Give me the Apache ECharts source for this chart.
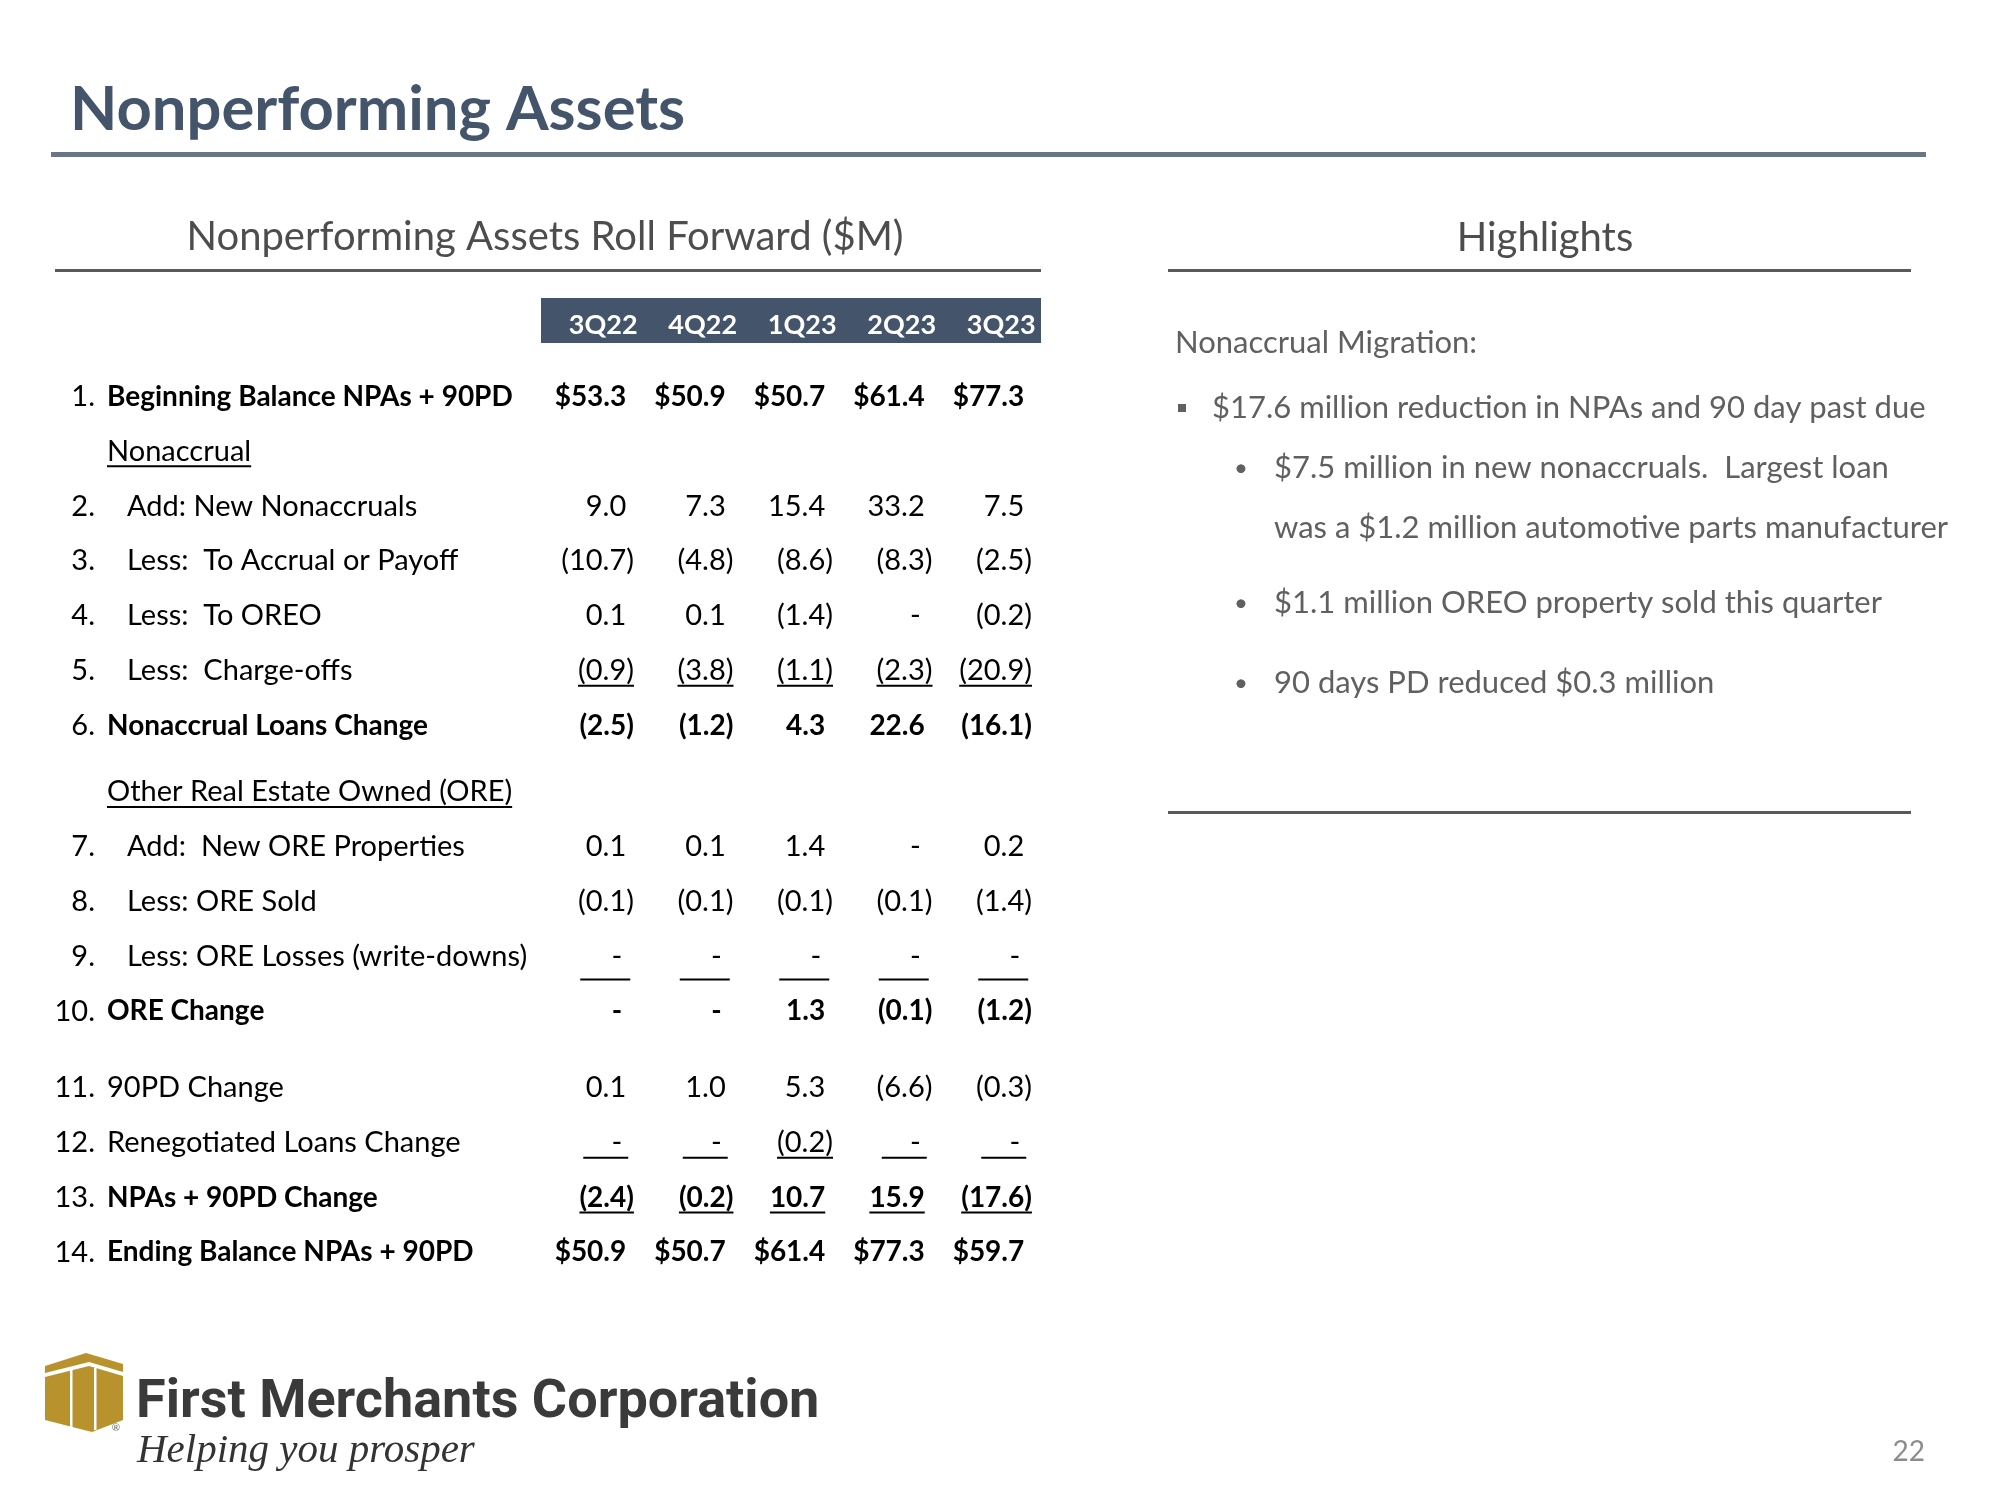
<!DOCTYPE html>
<html><head><meta charset="utf-8">
<script src="https://cdn.jsdelivr.net/npm/echarts@6/dist/echarts.min.js"></script>
<style>html,body{margin:0;padding:0;background:#fff}#c{width:2000px;height:1500px}</style>
</head><body><div id="c"></div>
<script>
// ---------------- DATA ----------------
const quarters = ['3Q22', '4Q22', '1Q23', '2Q23', '3Q23'];
const beginningBalance   = [53.3, 50.9, 50.7, 61.4, 77.3];
const newNonaccruals     = [9.0, 7.3, 15.4, 33.2, 7.5];
const toAccrualOrPayoff  = [-10.7, -4.8, -8.6, -8.3, -2.5];
const toOreo             = [0.1, 0.1, -1.4, 0, -0.2];
const chargeOffs         = [-0.9, -3.8, -1.1, -2.3, -20.9];
const nonaccrualChange   = [-2.5, -1.2, 4.3, 22.6, -16.1];
const newOreProperties   = [0.1, 0.1, 1.4, 0, 0.2];
const oreSold            = [-0.1, -0.1, -0.1, -0.1, -1.4];
const oreLosses          = [0, 0, 0, 0, 0];
const oreChange          = [0, 0, 1.3, -0.1, -1.2];
const pd90Change         = [0.1, 1.0, 5.3, -6.6, -0.3];
const renegotiatedChange = [0, 0, -0.2, 0, 0];
const npaChange          = [-2.4, -0.2, 10.7, 15.9, -17.6];
const endingBalance      = [50.9, 50.7, 61.4, 77.3, 59.7];

const rowNumbers = ['1.', '', '2.', '3.', '4.', '5.', '6.', '', '7.', '8.', '9.', '10.', '11.', '12.', '13.', '14.'];
const rowLabels = [
  'Beginning Balance NPAs + 90PD', 'Nonaccrual', 'Add: New Nonaccruals', 'Less:  To Accrual or Payoff',
  'Less:  To OREO', 'Less:  Charge-offs', 'Nonaccrual Loans Change', 'Other Real Estate Owned (ORE)',
  'Add:  New ORE Properties', 'Less: ORE Sold', 'Less: ORE Losses (write-downs)', 'ORE Change',
  '90PD Change', 'Renegotiated Loans Change', 'NPAs + 90PD Change', 'Ending Balance NPAs + 90PD'
];
const rowValues = [
  beginningBalance, null, newNonaccruals, toAccrualOrPayoff, toOreo, chargeOffs, nonaccrualChange, null,
  newOreProperties, oreSold, oreLosses, oreChange, pd90Change, renegotiatedChange, npaChange, endingBalance
];
const dollarRows = [0, 15];

const slideTitle = 'Nonperforming Assets';
const tableTitle = 'Nonperforming Assets Roll Forward ($M)';
const highlightsTitle = 'Highlights';
const highlightsLead = 'Nonaccrual Migration:';
const highlightMain = '$17.6 million reduction in NPAs and 90 day past due';
const highlightSubs = [
  ['$7.5 million in new nonaccruals.  Largest loan', 'was a $1.2 million automotive parts manufacturer'],
  ['$1.1 million OREO property sold this quarter'],
  ['90 days PD reduced $0.3 million']
];
const companyName = 'First Merchants Corporation';
const tagline = 'Helping you prosper';
const pageNumber = '22';

// ---------------- STYLE / LAYOUT ----------------
const boldRows = [0, 6, 11, 14, 15];
const indentRows = [2, 3, 4, 5, 8, 9, 10];
const sectionRows = [1, 7];
const rowDecoration = {5: 'u', 10: 'b', 13: 'pu', 14: 'u'};
const FF = 'Lato, "Open Sans", sans-serif';
const FS = 29, FSB = 28;
const HFS = 31;
const TXT = '#000000';
const NUM_RIGHT = 23, DASH_PAD = 4;
function rowSlot(i) { return i + (i >= 7 ? 0.21 : 0) + (i >= 12 ? 0.395 : 0); }

const mctx = document.createElement('canvas').getContext('2d');
function tw(t, weight, size, fam) { mctx.font = weight + ' ' + size + 'px ' + (fam || FF); return mctx.measureText(t).width; }
function fmt(v, dollar) {
  if (v === 0) return '-';
  const s = Math.abs(v).toFixed(1);
  if (dollar) return '$' + s;
  return v < 0 ? '(' + s + ')' : s;
}
function uline(x1, x2, y) {
  return {type: 'line', shape: {x1: x1, y1: y, x2: x2, y2: y}, style: {stroke: TXT, lineWidth: 2}};
}

const cellData = [], labelData = [];
rowLabels.forEach((l, r) => {
  labelData.push([0, rowSlot(r), r]);
  if (rowValues[r]) quarters.forEach((q, c) => cellData.push([c, rowSlot(r), r]));
});

function renderCell(params, api) {
  const c = api.value(0), slot = api.value(1), r = api.value(2);
  const p = api.coord([c, slot]);
  const txt = fmt(rowValues[r][c], dollarRows.includes(r));
  const bold = boldRows.includes(r);
  const weight = bold ? 'bold' : 'normal';
  const size = bold ? FSB : FS;
  const right = p[0] + NUM_RIGHT;
  let x = right;
  if (txt.endsWith(')')) x = right + tw(')', weight, size);
  else if (txt === '-') x = right - DASH_PAD;
  const w = tw(txt, weight, size);
  const ch = [{type: 'text', style: {text: txt, x: x, y: p[1], align: 'right', verticalAlign: 'middle',
    fontSize: size, fontWeight: weight, fontFamily: FF, fill: TXT}}];
  const d = rowDecoration[r];
  if (d === 'u' || (d === 'pu' && txt !== '-')) ch.push(uline(x - w, x, p[1] + 15));
  else if (d === 'pu') ch.push(uline(right - 43, right + 2, p[1] + 15));
  else if (d === 'b') ch.push(uline(right - 46, right + 4, p[1] + 23));
  return {type: 'group', children: ch};
}
function renderLabel(params, api) {
  const slot = api.value(1), r = api.value(2);
  const p = api.coord([0, slot]);
  const y = p[1];
  const bold = boldRows.includes(r);
  const weight = bold ? 'bold' : 'normal';
  const size = bold ? FSB : FS;
  const lx = indentRows.includes(r) ? 127 : 107;
  const ch = [];
  if (rowNumbers[r]) ch.push({type: 'text', style: {text: rowNumbers[r], x: 95, y: y, align: 'right', verticalAlign: 'middle',
    fontSize: FS, fontFamily: FF, fill: TXT}});
  ch.push({type: 'text', style: {text: rowLabels[r], x: lx, y: y, align: 'left', verticalAlign: 'middle',
    fontSize: size, fontWeight: weight, fontFamily: FF, fill: TXT}});
  if (sectionRows.includes(r)) ch.push(uline(lx, lx + tw(rowLabels[r], weight, size), y + 15));
  return {type: 'group', children: ch};
}

// ---------------- GRAPHICS ----------------
const GRAY = '#595959';
const HL = '#606060';
const gold = '#b8922c';
const graphics = [
  {type: 'text', left: 70, top: 79, style: {text: slideTitle, fontSize: 61.5, fontWeight: 'bold', fontFamily: FF, fill: '#44546a'}},
  {type: 'rect', shape: {x: 51, y: 152, width: 1875, height: 5}, style: {fill: '#6a7686'}},
  {type: 'text', x: 545, y: 237, style: {text: tableTitle, fontSize: 40, fontFamily: FF, fill: '#4d4d4d', align: 'center', verticalAlign: 'middle'}},
  {type: 'rect', shape: {x: 55, y: 269, width: 986, height: 3}, style: {fill: GRAY}},
  {type: 'text', x: 1545, y: 238, style: {text: highlightsTitle, fontSize: 40, fontFamily: FF, fill: '#4d4d4d', align: 'center', verticalAlign: 'middle'}},
  {type: 'rect', shape: {x: 1168, y: 269, width: 743, height: 3}, style: {fill: GRAY}},
  {type: 'rect', shape: {x: 1168, y: 811, width: 743, height: 3}, style: {fill: GRAY}},
  {type: 'rect', z: -10, shape: {x: 541, y: 298, width: 500, height: 45}, style: {fill: '#44546a'}},
  {type: 'text', x: 1175, y: 343, style: {text: highlightsLead, fontSize: HFS, fontFamily: FF, fill: HL, verticalAlign: 'middle'}},
  {type: 'rect', shape: {x: 1178, y: 404, width: 8, height: 8}, style: {fill: HL}},
  {type: 'text', x: 1212, y: 408, style: {text: highlightMain, fontSize: HFS, fontFamily: FF, fill: HL, verticalAlign: 'middle'}},
  {type: 'text', x: 1925, y: 1452, style: {text: pageNumber, fontSize: 28, fontFamily: FF, fill: '#8c8c8c', align: 'right', verticalAlign: 'middle'}},
  // logo icon
  {type: 'polygon', shape: {points: [[45, 1366], [86, 1353], [123, 1364], [123, 1372], [89, 1362], [45, 1373]]}, style: {fill: gold}},
  {type: 'polygon', shape: {points: [[45, 1377], [89, 1366], [123, 1376], [123, 1420], [92, 1432], [45, 1420]]}, style: {fill: gold}},
  {type: 'rect', shape: {x: 70, y: 1368, width: 2.5, height: 62}, style: {fill: '#fff'}},
  {type: 'rect', shape: {x: 94, y: 1368, width: 2.5, height: 62}, style: {fill: '#fff'}},
  {type: 'text', x: 116, y: 1428, style: {text: '®', fontSize: 10, fontFamily: FF, fill: '#666', align: 'center', verticalAlign: 'middle'}},
  {type: 'text', x: 136, y: 1403, style: {text: companyName, fontSize: 54, fontWeight: 'bold', fontFamily: 'Roboto', fill: '#3a3a3a', verticalAlign: 'middle'}},
  {type: 'text', x: 137, y: 1451, style: {text: tagline, fontSize: 41, fontStyle: 'italic', fontFamily: '"Liberation Serif", serif', fill: '#333', verticalAlign: 'middle'}}
];
const subY = [468, 603, 683];
highlightSubs.forEach((lines, i) => {
  graphics.push({type: 'text', x: 1241, y: subY[i], style: {text: '•', fontSize: 24, fontFamily: FF, fill: HL, align: 'center', verticalAlign: 'middle'}});
  lines.forEach((t, j) => graphics.push({type: 'text', x: 1274, y: subY[i] + j * 60, style: {text: t, fontSize: HFS, fontFamily: FF, fill: HL, verticalAlign: 'middle'}}));
});

const chart = echarts.init(document.getElementById('c'), null, {renderer: 'canvas'});
chart.setOption({
  animation: false,
  backgroundColor: '#fff',
  grid: {left: 553.5, top: 396.5, width: 497.5, height: 855.9},
  xAxis: {type: 'category', data: quarters, position: 'top', z: 10,
    axisLine: {show: false}, axisTick: {show: false}, splitLine: {show: false},
    axisLabel: {color: '#fff', fontWeight: 'bold', fontSize: 27, fontFamily: FF, margin: 58}},
  yAxis: {type: 'value', inverse: true, min: 0, max: rowSlot(15), show: false},
  graphic: graphics,
  series: [
    {type: 'custom', renderItem: renderCell, data: cellData, encode: {x: 0, y: 1}, silent: true, clip: false},
    {type: 'custom', renderItem: renderLabel, data: labelData, encode: {x: 0, y: 1}, silent: true, clip: false}
  ]
});
</script></body></html>
